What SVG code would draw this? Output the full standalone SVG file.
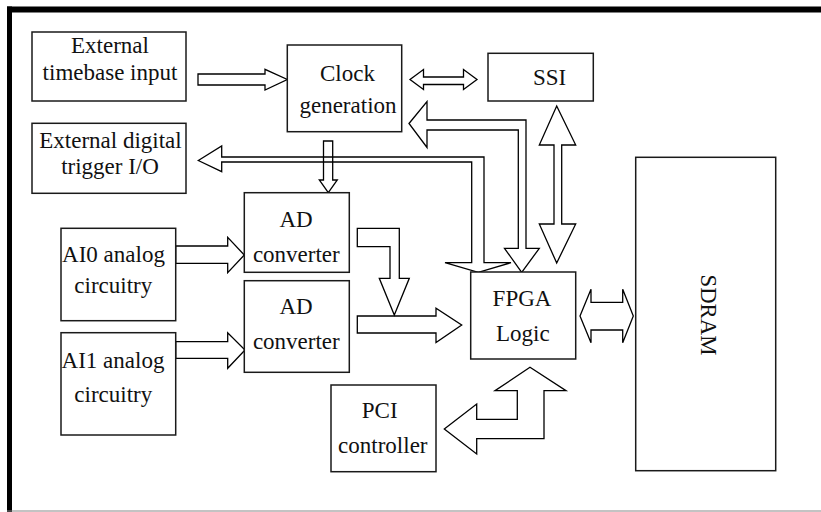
<svg xmlns="http://www.w3.org/2000/svg" width="821" height="512" viewBox="0 0 821 512">
<style>
.box{fill:#fff;stroke:#1a1a1a;stroke-width:1.5}
.arr{fill:none;stroke:#000;stroke-width:1.3;stroke-linejoin:miter}
text{font-family:"Liberation Serif","Times New Roman",serif;font-size:23px;fill:#111;text-anchor:middle}
</style>
<rect x="0" y="0" width="821" height="512" fill="#fff"/>
<g id="frame">
<rect x="7" y="6.5" width="814" height="6" fill="#000"/>
<rect x="7" y="6.5" width="5" height="505.5" fill="#000"/>
<line x1="7" y1="511" x2="821" y2="511" stroke="#888" stroke-width="1.2"/>
</g>
<g id="connectors">
<polygon class="arr" points="198,74 265,74 265,69.3 287.3,79.5 265,90 265,85 198,85"/>
<polygon class="arr" points="410,79.5 423.5,69.5 423.5,77 463.5,77 463.5,69.5 477,79.5 463.5,89.5 463.5,84.5 423.5,84.5 423.5,89.5"/>
<polygon class="arr" points="556.7,106 575.7,145 561.7,145 561.7,224 575.7,224 556.7,263 539.3,224 554,224 554,145 539.3,145"/>
<polygon class="arr" points="409,123.5 427,101.5 427,120 526,120 526,248.3 539.3,248.3 521.7,272.5 504.5,248.3 518.3,248.3 518.3,130 427,130 427,147.5"/>
<polygon class="arr" points="198.3,160.5 221.7,146 221.7,157 484,157 484,262.7 511,262.7 478.3,272.3 445,262.7 471.7,262.7 471.7,162 221.7,162 221.7,171.7"/>
<polygon class="arr" points="323.5,141 332.7,141 332.7,180 337.3,180 328.3,192.7 319.3,180 323.5,180"/>
<polygon class="arr" points="175.7,246 227.7,246 227.7,237.3 244.3,255 227.7,272.7 227.7,263.3 175.7,263.3"/>
<polygon class="arr" points="175.7,341.7 227.7,341.7 227.7,332.7 245,350 227.7,368.3 227.7,358.3 175.7,358.3"/>
<polygon class="arr" points="357.3,228.3 399.3,228.3 399.3,278.3 409.3,278.3 394.3,315 379.3,278.3 390,278.3 390,246.7 357.3,246.7"/>
<polygon class="arr" points="357.3,316 436,316 436,308.3 461.7,325 436,342.5 436,333 357.3,333"/>
<polygon class="arr" points="580,316 591,289.3 591,302.3 622.7,302.3 622.7,289.3 633.3,316 622.7,342.7 622.7,330 591,330 591,342.7"/>
<polygon class="arr" points="444.3,429 476.7,404 476.7,419.3 517.3,419.3 517.3,390.7 495,390.7 530,367.3 566,390.7 544,390.7 544,438.7 476.7,438.7 476.7,454"/>
</g>
<g id="ext-timebase">
<rect class="box" x="32" y="32" width="154" height="69"/>
<text x="110" y="52.7">External</text>
<text x="110" y="80">timebase input</text>
</g>
<g id="clock">
<rect class="box" x="287.3" y="45" width="114.4" height="86.7"/>
<text x="347.5" y="80.5">Clock</text>
<text x="348" y="113.3">generation</text>
</g>
<g id="ssi">
<rect class="box" x="488" y="53.3" width="105.3" height="47.7"/>
<text x="549.5" y="85">SSI</text>
</g>
<g id="ext-trigger">
<rect class="box" x="32" y="123.3" width="154" height="70"/>
<text x="110.5" y="148">External digital</text>
<text x="110" y="174">trigger I/O</text>
</g>
<g id="ad1">
<rect class="box" x="244.3" y="192.7" width="105" height="79.6"/>
<text x="296" y="227">AD</text>
<text x="296.3" y="262.3">converter</text>
</g>
<g id="ad2">
<rect class="box" x="244.3" y="280.7" width="105" height="91.6"/>
<text x="296" y="314.3">AD</text>
<text x="296.3" y="349">converter</text>
</g>
<g id="ai0">
<rect class="box" x="61" y="228.3" width="114.7" height="92.4"/>
<text x="113.5" y="262">AI0 analog</text>
<text x="113.3" y="293.3">circuitry</text>
</g>
<g id="ai1">
<rect class="box" x="61" y="332.7" width="114.7" height="102.3"/>
<text x="113" y="368.3">AI1 analog</text>
<text x="113.3" y="401.7">circuitry</text>
</g>
<g id="pci">
<rect class="box" x="331" y="385" width="105" height="86.7"/>
<text x="379.7" y="418.3">PCI</text>
<text x="382.8" y="453.3">controller</text>
</g>
<g id="fpga">
<rect class="box" x="470.7" y="272" width="105" height="87"/>
<text x="522" y="306">FPGA</text>
<text x="522.8" y="340.7">Logic</text>
</g>
<g id="sdram">
<rect class="box" x="635.7" y="157.3" width="140" height="313.4"/>
<text x="0" y="0" transform="translate(700.5,315) rotate(90)" font-size="24" textLength="81" lengthAdjust="spacingAndGlyphs">SDRAM</text>
</g>
</svg>
